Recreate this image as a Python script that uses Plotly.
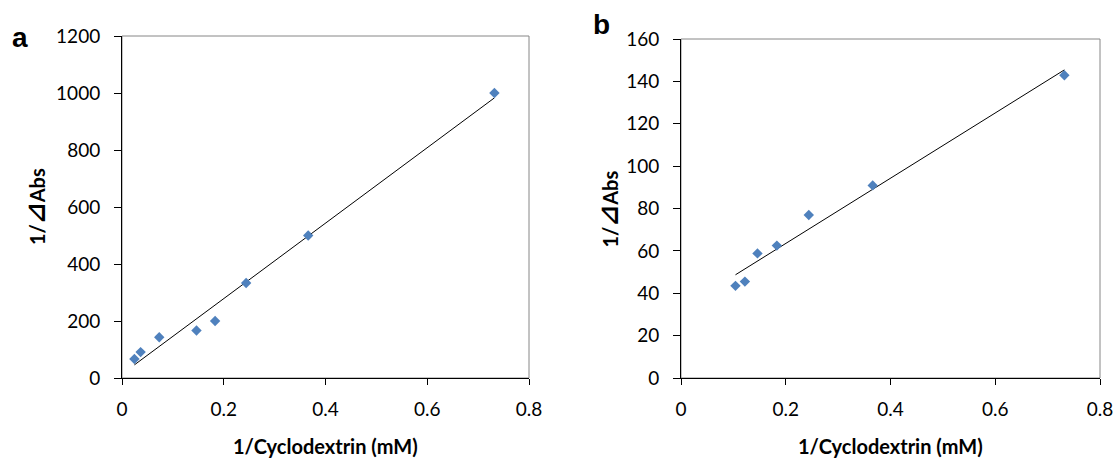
import numpy as np
import plotly.graph_objects as go

# Panel a data
xa = [0.0244, 0.0366, 0.0732, 0.1464, 0.1830, 0.2440, 0.3660, 0.7320]
ya = [66.7, 90.9, 142.9, 166.7, 200.0, 333.3, 500.0, 1000.0]
# Panel b data
xb = [0.104, 0.122, 0.146, 0.183, 0.244, 0.366, 0.732]
yb = [43.5, 45.5, 58.8, 62.5, 76.9, 90.9, 142.9]

xticks = [0, 0.2, 0.4, 0.6, 0.8]
xticklabels = ["0", "0.2", "0.4", "0.6", "0.8"]
ya_ticks = [0, 200, 400, 600, 800, 1000, 1200]
yb_ticks = [0, 20, 40, 60, 80, 100, 120, 140, 160]

x_title = "1/Cyclodextrin (mM)"
y_title_pre = "1/"
y_title_sym = "⊿"
y_title_post = "Abs"

W, H = 1118, 462
BLUE = "#4F81BD"
FONT = "Lato, Open Sans, DejaVu Sans, sans-serif"

def fit_line(x, y):
    m, c = np.polyfit(x, y, 1)
    xs = [min(x), max(x)]
    return xs, [m * v + c for v in xs]

fig = go.Figure()

lxa, lya = fit_line(xa, ya)
lxb, lyb = fit_line(xb, yb)

fig.add_trace(go.Scatter(x=lxa, y=lya, mode="lines", line=dict(color="black", width=1),
                         xaxis="x", yaxis="y", showlegend=False, hoverinfo="skip"))
fig.add_trace(go.Scatter(x=xa, y=ya, mode="markers",
                         marker=dict(symbol="diamond", color=BLUE, size=8),
                         xaxis="x", yaxis="y", showlegend=False))
fig.add_trace(go.Scatter(x=lxb, y=lyb, mode="lines", line=dict(color="black", width=1),
                         xaxis="x2", yaxis="y2", showlegend=False, hoverinfo="skip"))
fig.add_trace(go.Scatter(x=xb, y=yb, mode="markers",
                         marker=dict(symbol="diamond", color=BLUE, size=8),
                         xaxis="x2", yaxis="y2", showlegend=False))

def px_x(p):
    return p / W

def px_y(p):
    return 1 - p / H

# plot boxes in pixels
A = dict(l=122, r=529, t=36, b=378)
B = dict(l=681, r=1100, t=39, b=378)

tickfont = dict(family=FONT, size=19, color="#000000")
common_x = dict(range=[0, 0.8], tickvals=xticks, ticktext=xticklabels, showgrid=False,
                zeroline=False, showline=True, linecolor="black", linewidth=1,
                ticks="outside", ticklen=6, tickcolor="black", tickfont=tickfont,
                ticklabelstandoff=8, automargin=False)
common_y = dict(showgrid=False, zeroline=False, showline=True, linecolor="black", linewidth=1,
                ticks="outside", ticklen=7, tickcolor="black", tickfont=tickfont,
                ticklabelstandoff=10, automargin=False)

fig.update_layout(
    template="none",
    width=W, height=H,
    margin=dict(l=0, r=0, t=0, b=0, pad=0),
    paper_bgcolor="white", plot_bgcolor="white",
    xaxis=dict(domain=[px_x(A["l"]), px_x(A["r"])], anchor="y", **common_x),
    yaxis=dict(domain=[px_y(A["b"]), px_y(A["t"])], anchor="x", range=[0, 1200],
               tickvals=ya_ticks, **common_y),
    xaxis2=dict(domain=[px_x(B["l"]), px_x(B["r"])], anchor="y2", **common_x),
    yaxis2=dict(domain=[px_y(B["b"]), px_y(B["t"])], anchor="x2", range=[0, 160],
                tickvals=yb_ticks, **common_y),
)

shapes = []
for P in (A, B):
    shapes.append(dict(type="rect", xref="paper", yref="paper",
                       x0=px_x(P["l"]), x1=px_x(P["r"]), y0=px_y(P["b"]), y1=px_y(P["t"]),
                       line=dict(color="#868686", width=1), layer="below"))
fig.update_layout(shapes=shapes)

titlefont = dict(family=FONT, size=20, color="#000000")
y_title_html = "<b>%s<span style='font-size:26px'>%s</span>%s</b>" % (y_title_pre, y_title_sym, y_title_post)
ann = []
for P, ytx in ((A, 35), (B, 607)):
    ann.append(dict(text="<b>%s</b>" % x_title, x=px_x((P["l"] + P["r"]) / 2), y=px_y(446),
                    xref="paper", yref="paper", showarrow=False, font=titlefont,
                    xanchor="center", yanchor="middle"))
    ann.append(dict(text=y_title_html, x=px_x(ytx), y=px_y((P["t"] + P["b"]) / 2),
                    xref="paper", yref="paper", showarrow=False, font=titlefont,
                    textangle=-90, xanchor="center", yanchor="middle"))
panelfont = dict(family="Liberation Sans, Arial, sans-serif", size=28, color="#000000")
ann.append(dict(text="<b>a</b>", x=px_x(20), y=px_y(38), xref="paper", yref="paper",
                showarrow=False, font=panelfont, xanchor="center", yanchor="middle"))
ann.append(dict(text="<b>b</b>", x=px_x(601), y=px_y(24), xref="paper", yref="paper",
                showarrow=False, font=panelfont, xanchor="center", yanchor="middle"))
fig.update_layout(annotations=ann)

fig.write_html("out.html",
               config={"displayModeBar": False},
               post_script="document.body.style.margin='0px';document.body.style.overflow='hidden';")
